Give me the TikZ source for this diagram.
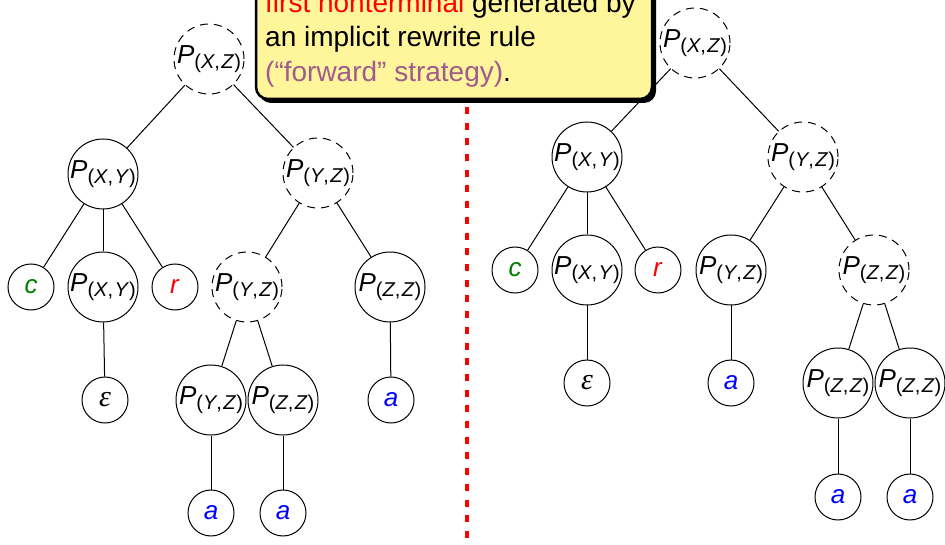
\documentclass[tikz,border=0pt]{standalone}
\usepackage{fontspec}
\setmainfont{Liberation Sans}
\newfontfamily\epsfont{Liberation Serif}

\definecolor{termgreen}{RGB}{0,128,0}
\definecolor{termblue}{RGB}{0,0,255}
\definecolor{termred}{RGB}{255,0,0}
\definecolor{notemauve}{RGB}{160,90,140}
\definecolor{notefill}{RGB}{255,245,155}

% nonterminal label P_(A,B) set in italic sans
\newcommand\ntlabel[2]{\textit{P}\raisebox{-5pt}{\fontsize{20}{20}\selectfont(\textit{#1},\kern1.5pt\textit{#2})}}
% empty word
\newcommand\emptyword{{\epsfont\itshape\fontsize{30}{30}\selectfont ε}}

\begin{document}
\begin{tikzpicture}[x=1pt,y=-1pt,
  every node/.style={font=\fontsize{26}{31}\selectfont},
  nt/.style={circle, draw, line width=1pt, minimum size=70pt, inner sep=-12pt},
  ntd/.style={nt, dash pattern=on 8pt off 6pt},
  leaf/.style={circle, draw, line width=1pt, minimum size=46pt, inner sep=0pt},
  edge/.style={line width=1pt},
  sepline/.style={termred, line width=4pt, dash pattern=on 7pt off 8.7pt},
  notebox/.style={draw=black, fill=notefill, line width=2.5pt, rounded corners=12pt},
  noteshadow/.style={fill=black, rounded corners=12pt},
  noteline/.style={anchor=base west, inner sep=0pt, font=\fontsize{28}{34}\selectfont}
]
\useasboundingbox (0,0) rectangle (945,545);
\clip (0,0) rectangle (945,545);

% ---------- left derivation tree ----------
\node[ntd] (L0) at (209,59) {\ntlabel{X}{Z}};
\node[nt]  (L1) at (103,174) {\ntlabel{X}{Y}};
\node[ntd] (L2) at (318,173) {\ntlabel{Y}{Z}};
\node[leaf] (L3) at (31,287) {\color{termgreen}\textit{c}};
\node[nt]  (L4) at (103,287) {\ntlabel{X}{Y}};
\node[leaf] (L5) at (175,287) {\color{termred}\textit{r}};
\node[ntd] (L6) at (247,287) {\ntlabel{Y}{Z}};
\node[nt]  (L7) at (390,287) {\ntlabel{Z}{Z}};
\node[leaf] (L8) at (105,400) {\emptyword};
\node[nt]  (L9) at (211,400) {\ntlabel{Y}{Z}};
\node[nt]  (L10) at (283,400) {\ntlabel{Z}{Z}};
\node[leaf] (L11) at (391,400) {\color{termblue}\textit{a}};
\node[leaf] (L12) at (211,513) {\color{termblue}\textit{a}};
\node[leaf] (L13) at (283,513) {\color{termblue}\textit{a}};

\draw[edge] (L0) -- (L1);
\draw[edge] (L0) -- (L2);
\draw[edge] (L1) -- (L3);
\draw[edge] (L1) -- (L4);
\draw[edge] (L1) -- (L5);
\draw[edge] (L4) -- (L8);
\draw[edge] (L2) -- (L6);
\draw[edge] (L2) -- (L7);
\draw[edge] (L6) -- (L9);
\draw[edge] (L6) -- (L10);
\draw[edge] (L7) -- (L11);
\draw[edge] (L9) -- (L12);
\draw[edge] (L10) -- (L13);

% ---------- right derivation tree ----------
\node[ntd] (R0) at (695,43) {\ntlabel{X}{Z}};
\node[nt]  (R1) at (587,157) {\ntlabel{X}{Y}};
\node[ntd] (R2) at (803,157) {\ntlabel{Y}{Z}};
\node[leaf] (R3) at (515,270) {\color{termgreen}\textit{c}};
\node[nt]  (R4) at (587,270) {\ntlabel{X}{Y}};
\node[leaf] (R5) at (658,270) {\color{termred}\textit{r}};
\node[nt]  (R6) at (731,270) {\ntlabel{Y}{Z}};
\node[ntd] (R7) at (874,270) {\ntlabel{Z}{Z}};
\node[leaf] (R8) at (587,383) {\emptyword};
\node[leaf] (R9) at (731,383) {\color{termblue}\textit{a}};
\node[nt]  (R10) at (838,383) {\ntlabel{Z}{Z}};
\node[nt]  (R11) at (910,383) {\ntlabel{Z}{Z}};
\node[leaf] (R12) at (838,497) {\color{termblue}\textit{a}};
\node[leaf] (R13) at (910,497) {\color{termblue}\textit{a}};

\draw[edge] (R0) -- (R1);
\draw[edge] (R0) -- (R2);
\draw[edge] (R1) -- (R3);
\draw[edge] (R1) -- (R4);
\draw[edge] (R1) -- (R5);
\draw[edge] (R4) -- (R8);
\draw[edge] (R2) -- (R6);
\draw[edge] (R2) -- (R7);
\draw[edge] (R6) -- (R9);
\draw[edge] (R7) -- (R10);
\draw[edge] (R7) -- (R11);
\draw[edge] (R10) -- (R12);
\draw[edge] (R11) -- (R13);

% ---------- separator ----------
\coordinate (sepTop) at (467,107);
\coordinate (sepBot) at (467,545);
\draw[sepline] (sepTop) -- (sepBot);

% ---------- explanatory note ----------
\path[noteshadow] (259,-40) rectangle (656,103);
\path[notebox] (256,-40) rectangle (652,99);
\node[noteline] (note1) at (265,13) {{\color{termred}first nonterminal} generated by};
\node[noteline] (note2) at (265,47) {an implicit rewrite rule};
\node[noteline] (note3) at (265,82) {{\color{notemauve}(“forward” strategy)}.};
\end{tikzpicture}
\end{document}
